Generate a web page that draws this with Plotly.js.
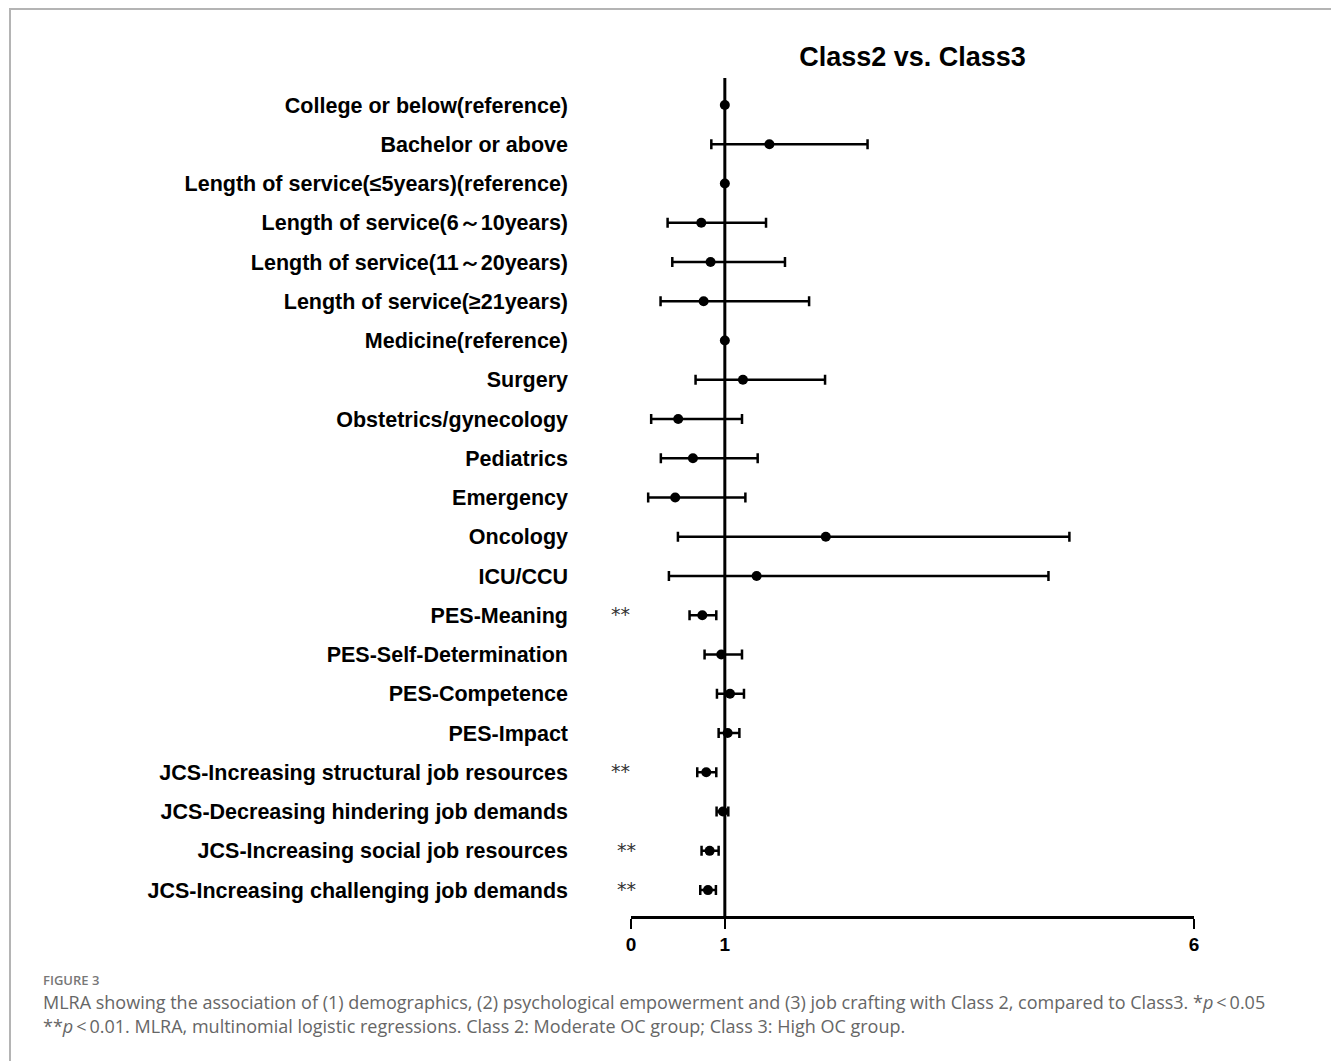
<!DOCTYPE html>
<html>
<head>
<meta charset="utf-8">
<script src="https://cdn.plot.ly/plotly-3.0.1.min.js"></script>
<style>
  html, body { margin:0; padding:0; background:#fff; }
  #wrap { position:relative; width:1331px; height:1061px; overflow:hidden; background:#fff; }
  #frame { position:absolute; left:9px; top:8px; width:1340px; height:1100px; border-top:2px solid #b4b4b4; border-left:2px solid #b4b4b4; }
  #plot { position:absolute; left:0; top:0; width:1331px; height:1061px; }
  #figlab { position:absolute; left:43px; top:971px; font-family:"Open Sans","Noto Sans",sans-serif; font-size:13px; font-weight:600; color:#777; }
  #cap { position:absolute; left:43px; top:990px; width:1280px; font-family:"Open Sans","Noto Sans",sans-serif; font-size:18px; line-height:24px; color:#666; }
</style>
</head>
<body>
<div id="wrap">
  <div id="frame"></div>
  <div id="plot"></div>
  <div id="figlab">FIGURE 3</div>
  <div id="cap">MLRA showing the association of (1) demographics, (2) psychological empowerment and (3) job crafting with Class 2, compared to Class3. *<i>p</i>&thinsp;&lt;&thinsp;0.05<br>**<i>p</i>&thinsp;&lt;&thinsp;0.01. MLRA, multinomial logistic regressions. Class 2: Moderate OC group; Class 3: High OC group.</div>
</div>
<script>
const labels = [
  "College or below(reference)",
  "Bachelor or above",
  "Length of service(≤5years)(reference)",
  "Length of service(6～10years)",
  "Length of service(11～20years)",
  "Length of service(≥21years)",
  "Medicine(reference)",
  "Surgery",
  "Obstetrics/gynecology",
  "Pediatrics",
  "Emergency",
  "Oncology",
  "ICU/CCU",
  "PES-Meaning",
  "PES-Self-Determination",
  "PES-Competence",
  "PES-Impact",
  "JCS-Increasing structural job resources",
  "JCS-Decreasing hindering job demands",
  "JCS-Increasing social job resources",
  "JCS-Increasing challenging job demands"
];
const est = [1, 1.475, 1, 0.749, 0.848, 0.774, 1, 1.193, 0.503, 0.660, 0.471, 2.076, 1.339, 0.760, 0.962, 1.055, 1.030, 0.802, 0.980, 0.838, 0.820];
const lo  = [null, 0.856, null, 0.390, 0.440, 0.315, null, 0.688, 0.215, 0.318, 0.183, 0.500, 0.404, 0.624, 0.784, 0.916, 0.934, 0.706, 0.912, 0.752, 0.738];
const hi  = [null, 2.521, null, 1.439, 1.641, 1.898, null, 2.068, 1.183, 1.350, 1.219, 4.672, 4.449, 0.909, 1.183, 1.204, 1.155, 0.909, 1.037, 0.934, 0.905];
const sig = ["", "", "", "", "", "", "", "", "", "", "", "", "", "**", "", "", "", "**", "", "**", "**"];
const xTicks = [0, 1, 6];

const idx = labels.map((_, i) => i);
const errPlus = est.map((e, i) => hi[i] == null ? NaN : hi[i] - e);
const errMinus = est.map((e, i) => lo[i] == null ? NaN : e - lo[i]);

const trace = {
  type: "scatter", mode: "markers",
  x: est, y: idx,
  marker: { color: "#000", size: 10 },
  error_x: { type: "data", symmetric: false, array: errPlus, arrayminus: errMinus,
             color: "#000", thickness: 2.5, width: 5 },
  hoverinfo: "x+y", showlegend: false, cliponaxis: false
};

const annotations = [];
sig.forEach((s, i) => {
  if (s) annotations.push({
    xref: "paper", yref: "y", x: (i >= 19 ? -0.008 : -0.018), y: i, yshift: 1,
    text: s, showarrow: false, xanchor: "center", yanchor: "middle",
    font: { family: "DejaVu Sans, sans-serif", size: 19, color: "#333" }
  });
});

const layout = {
  width: 1331, height: 1061,
  margin: { l: 631, r: 137, t: 78, b: 145 },
  paper_bgcolor: "rgba(0,0,0,0)", plot_bgcolor: "rgba(0,0,0,0)",
  title: { text: "<b>Class2 vs. Class3</b>", x: 0.5, xref: "paper", xanchor: "center",
           y: 1 - 57 / 1061, yref: "container", yanchor: "middle",
           font: { family: "Liberation Sans, Arial, sans-serif", size: 27, color: "#000" } },
  xaxis: {
    range: [0, 6], tickvals: xTicks, ticktext: xTicks.map(String),
    showgrid: false, zeroline: false, showline: true, linecolor: "#000", linewidth: 2.5,
    ticks: "outside", ticklen: 10, tickwidth: 2.5, tickcolor: "#000",
    tickfont: { family: "Liberation Sans, Arial, sans-serif", size: 19, color: "#000", weight: "bold" },
    fixedrange: true
  },
  yaxis: {
    range: [20.66, -0.688], tickvals: idx, ticktext: labels.map(l => "<b>" + l + "</b>"),
    showgrid: false, zeroline: false, showline: false, ticks: "", ticklabelstandoff: 62,
    tickfont: { family: "Liberation Sans, Arial, sans-serif", size: 21.5, color: "#000" },
    fixedrange: true
  },
  shapes: [{ type: "line", xref: "x", yref: "paper", x0: 1, x1: 1, y0: 0, y1: 1,
             line: { color: "#000", width: 3 }, layer: "below" }],
  annotations: annotations
};

Plotly.newPlot("plot", [trace], layout, { displayModeBar: false, staticPlot: true });
</script>
</body>
</html>
